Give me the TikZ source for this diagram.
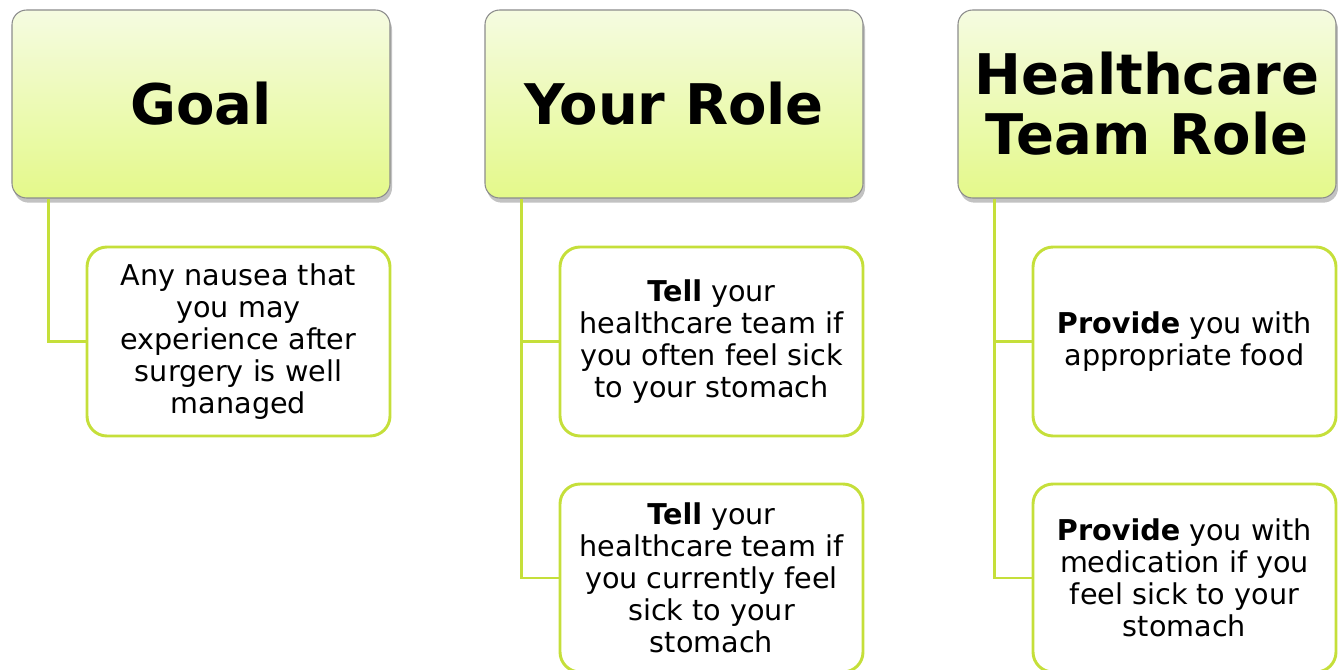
\documentclass[tikz,border=0pt]{standalone}
\usepackage{fontspec}
\setmainfont[Ligatures=NoCommon]{DejaVu Sans}
\usetikzlibrary{shadows}
\definecolor{lime}{HTML}{C5DF3A}
\definecolor{headtop}{HTML}{F5FBE1}
\definecolor{headbot}{HTML}{E4F98A}

\begin{document}
\begin{tikzpicture}[
    x=0.75pt, y=-0.75pt,
    header/.style = {draw=black!45, line width=0.8pt, rounded corners=11pt,
      top color=headtop, bottom color=headbot,
      minimum width=283.5pt, minimum height=141pt, align=center,
      font=\fontsize{42}{45}\selectfont\bfseries,
      drop shadow={shadow xshift=1.5pt, shadow yshift=-3.5pt, opacity=0.4, fill=black!60}},
    item/.style = {draw=lime, line width=2.2pt, rounded corners=15pt, fill=white,
      minimum width=227.25pt, minimum height=141.75pt, align=center,
      font=\fontsize{21.5}{24}\selectfont},
    link/.style = {draw=lime, line width=2.2pt}
    ]
    \useasboundingbox (0,0) rectangle (1338,670);
    \node[header] (goal) at (201,104) {Goal};
    \node[header] (role) at (674,104) {Your Role};
    \node[header] (team) at (1147,104) {Healthcare\\Team Role};
    \node[item] (goal1) at (238.5,341.5) {Any nausea that\\you may\\experience after\\surgery is well\\managed};
    \node[item] (role1) at (711.5,341.5) {\textbf{Tell} your\\healthcare team if\\you often feel sick\\to your stomach};
    \node[item, minimum height=141pt] (role2) at (711.5,578) {\textbf{Tell} your\\healthcare team if\\you currently feel\\sick to your\\stomach};
    \node[item] (team1) at (1184.5,341.5) {\textbf{Provide} you with\\appropriate food};
    \node[item, minimum height=141pt] (team2) at (1184.5,578) {\textbf{Provide} you with\\medication if you\\feel sick to your\\stomach};
    \draw[link] ([xshift=27.75pt]goal.south west) |- (goal1.west);
    \draw[link] ([xshift=27.75pt]role.south west) |- (role2.west);
    \draw[link] ([xshift=27.75pt]role.south west) |- (role1.west);
    \draw[link] ([xshift=27.75pt]team.south west) |- (team2.west);
    \draw[link] ([xshift=27.75pt]team.south west) |- (team1.west);
\end{tikzpicture}
\end{document}
